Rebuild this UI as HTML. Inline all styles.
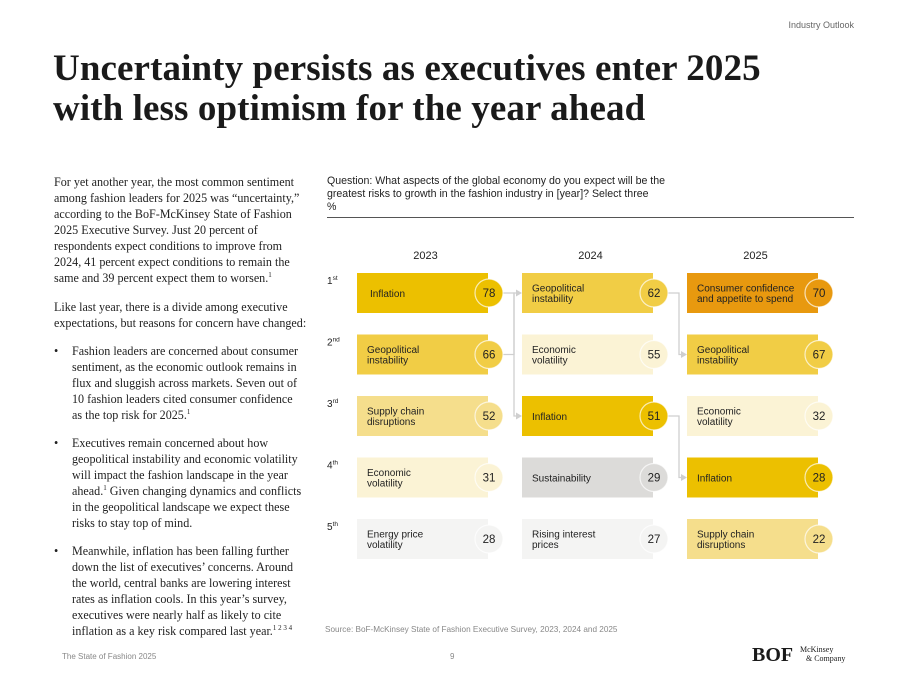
<!DOCTYPE html>
<html><head><meta charset="utf-8"><style>
*{margin:0;padding:0;box-sizing:border-box}
body{width:906px;height:680px;background:#fff;position:relative;overflow:hidden;font-family:"Liberation Sans",sans-serif;color:#1a1a1a}
.abs{position:absolute}
.serif{font-family:"Liberation Serif",serif}
#title{left:53px;top:49px;font-size:37px;font-weight:bold;line-height:40px;letter-spacing:0.1px;white-space:nowrap}
.body{font-family:"Liberation Serif",serif;font-size:12.1px;line-height:16px;white-space:nowrap;color:#222}
.bul{left:72px}
.dot{left:54px}
sup{font-size:7px;line-height:0}
</style></head><body>
<div class="abs" style="right:52px;top:20px;font-size:9px;color:#666">Industry Outlook</div>
<div id="title" class="abs serif">Uncertainty persists as executives enter 2025<br>with less optimism for the year ahead</div>

<div class="abs body" style="left:54px;top:174px">For yet another year, the most common sentiment<br>among fashion leaders for 2025 was “uncertainty,”<br>according to the BoF-McKinsey State of Fashion<br>2025 Executive Survey. Just 20 percent of<br>respondents expect conditions to improve from<br>2024, 41 percent expect conditions to remain the<br>same and 39 percent expect them to worsen.<sup>1</sup></div>
<div class="abs body" style="left:54px;top:299px">Like last year, there is a divide among executive<br>expectations, but reasons for concern have changed:</div>
<div class="abs body dot" style="top:343px">•</div>
<div class="abs body bul" style="top:343px">Fashion leaders are concerned about consumer<br>sentiment, as the economic outlook remains in<br>flux and sluggish across markets. Seven out of<br>10 fashion leaders cited consumer confidence<br>as the top risk for 2025.<sup>1</sup></div>
<div class="abs body dot" style="top:435px">•</div>
<div class="abs body bul" style="top:435px">Executives remain concerned about how<br>geopolitical instability and economic volatility<br>will impact the fashion landscape in the year<br>ahead.<sup>1</sup> Given changing dynamics and conflicts<br>in the geopolitical landscape we expect these<br>risks to stay top of mind.</div>
<div class="abs body dot" style="top:543px">•</div>
<div class="abs body bul" style="top:543px">Meanwhile, inflation has been falling further<br>down the list of executives’ concerns. Around<br>the world, central banks are lowering interest<br>rates as inflation cools. In this year’s survey,<br>executives were nearly half as likely to cite<br>inflation as a key risk compared last year.<sup>1 2 3 4</sup></div>

<div class="abs" style="left:327px;top:175px;font-size:10.6px;line-height:13px;color:#222">Question: What aspects of the global economy do you expect will be the<br>greatest risks to growth in the fashion industry in [year]? Select three<br>%</div>
<div class="abs" style="left:327px;top:217px;width:527px;height:1px;background:#555"></div>

<svg class="abs" style="left:0;top:0" width="906" height="680" id="chart"></svg>

<div class="abs" style="left:325px;top:625px;font-size:8.2px;color:#888">Source: BoF-McKinsey State of Fashion Executive Survey, 2023, 2024 and 2025</div>
<div class="abs" style="left:62px;top:652px;font-size:8px;color:#888">The State of Fashion 2025</div>
<div class="abs" style="left:450px;top:652px;font-size:8px;color:#888">9</div>
<div class="abs serif" style="left:752px;top:644px;font-size:20px;font-weight:bold">BOF</div>
<div class="abs serif" style="left:800px;top:645px;font-size:8px;line-height:9px">McKinsey<br>&nbsp;&nbsp;&nbsp;&amp; Company</div>

<script>
const years=["2023","2024","2025"];
const ranks=["1st","2nd","3rd","4th","5th"];
const labels2023=["Inflation","Geopolitical\ninstability","Supply chain\ndisruptions","Economic\nvolatility","Energy price\nvolatility"];
const values2023=[78,66,52,31,28];
const labels2024=["Geopolitical\ninstability","Economic\nvolatility","Inflation","Sustainability","Rising interest\nprices"];
const values2024=[62,55,51,29,27];
const labels2025=["Consumer confidence\nand appetite to spend","Geopolitical\ninstability","Economic\nvolatility","Inflation","Supply chain\ndisruptions"];
const values2025=[70,67,32,28,22];
const links=[[0,0,2],[0,1,0],[1,0,1],[1,2,3]]; // [fromYear, fromRank, toRank]

const svg=document.getElementById('chart');
const NS="http://www.w3.org/2000/svg";
const colX=i=>357+i*165;
const rowY=r=>273+r*61.5;
const BW=131,BH=40;
function colorFor(label,v){
  if(label.startsWith("Consumer"))return "#e8990f";
  if(label==="Sustainability")return "#dcdbd9";
  if(label==="Inflation"&&v>=28)return "#ecc000";
  if(label.startsWith("Geopolitical"))return "#f1cd45";
  if(label.startsWith("Supply"))return "#f5de8c";
  if(label.startsWith("Economic"))return "#fbf3d5";
  return "#f4f4f3";
}
function mk(tag,attrs){const e=document.createElementNS(NS,tag);for(const k in attrs)e.setAttribute(k,attrs[k]);svg.appendChild(e);return e;}
years.forEach((y,i)=>{
  const t=mk('text',{x:colX(i)+BW/2+3,y:259,'text-anchor':'middle','font-size':11,fill:'#222'});
  t.textContent=y;
  
  
});
ranks.forEach((r,j)=>{
  const t=mk('text',{x:327,y:rowY(j)+11,'font-size':10,fill:'#222'});
  t.innerHTML=r[0]+'<tspan font-size="6.5" dy="-4">'+r.slice(1)+'</tspan>';
  
  
});
links.forEach(([yi,fr,tr])=>{
  const x1=colX(yi)+BW+14, x2=colX(yi+1)-6, xm=colX(yi)+BW+26;
  const y1=rowY(fr)+BH/2, y2=rowY(tr)+BH/2;
  const p=mk('path',{d:`M${x1},${y1}H${xm}V${y2}H${x2}`,fill:'none',stroke:'#cfcfcf','stroke-width':1.3});
  
  
  const a=mk('path',{d:`M${x2},${y2-3.5}L${x2+6},${y2}L${x2},${y2+3.5}Z`,fill:'#cfcfcf'});
  
  
});
const allLabels=[labels2023,labels2024,labels2025], allValues=[values2023,values2024,values2025];
allLabels.forEach((labs,i)=>{
  labs.forEach((lab,j)=>{
    const v=allValues[i][j], c=colorFor(lab,v), x=colX(i), y=rowY(j);
    const r=mk('rect',{x:x,y:y,width:BW,height:BH,fill:c});
    
    
    const cx=x+BW+1, cy=y+BH/2;
    const ci=mk('circle',{cx:cx,cy:cy,r:14,fill:c,stroke:'rgba(255,255,255,0.7)','stroke-width':1.2});
    
    
    const vt=mk('text',{x:cx,y:cy+4,'text-anchor':'middle','font-size':11.5,fill:'#222'});
    vt.textContent=v;
    
    
    const lines=lab.split("\n");
    const lt=mk('text',{x:x+(lines.length===1&&i===0&&j===0?13:10),y:cy+(lines.length===1?4:-1.5),'font-size':10,fill:'#222'});
    lines.forEach((ln,k)=>{const ts=document.createElementNS(NS,'tspan');ts.setAttribute('x',lt.getAttribute('x'));if(k>0)ts.setAttribute('dy',10.5);ts.textContent=ln;lt.appendChild(ts);});
    
    
  });
});
</script>
</body></html>
